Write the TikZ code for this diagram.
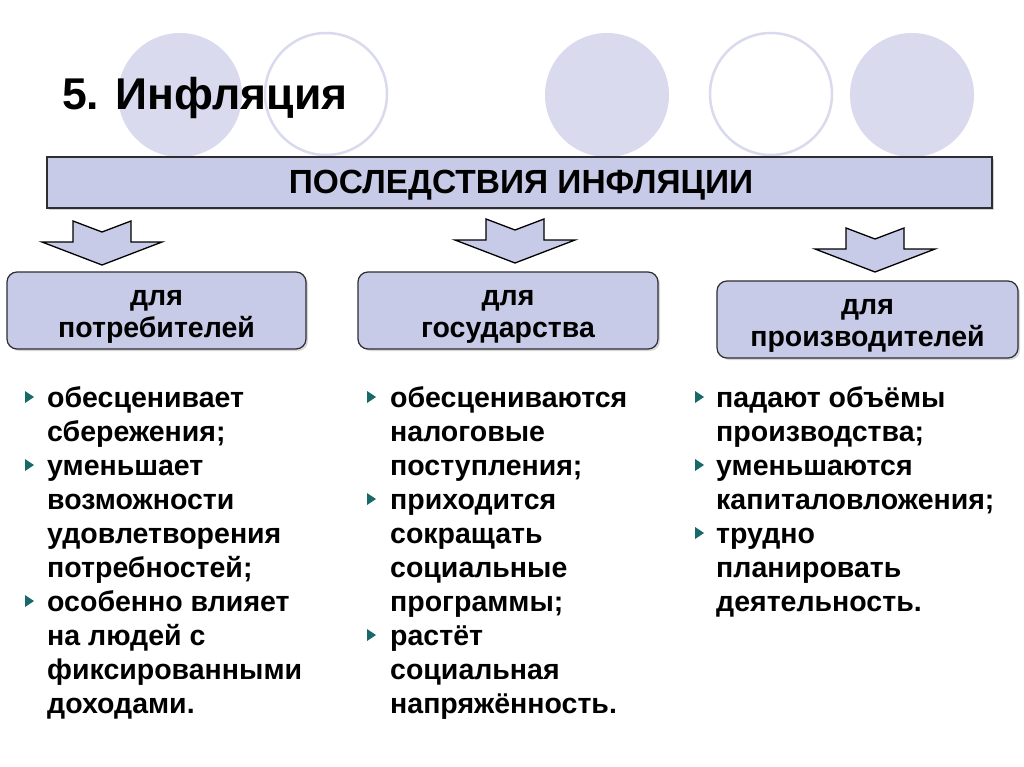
\documentclass[tikz,border=0pt]{standalone}
\usepackage{fontspec}
\setmainfont{Liberation Sans}
\usetikzlibrary{shadows}
\definecolor{lav}{RGB}{200,203,232}
\definecolor{circfill}{RGB}{217,218,238}
\definecolor{bord}{RGB}{45,45,50}
\definecolor{bulcol}{RGB}{25,105,105}
\tikzset{
  banner/.style={draw=bord, line width=1.2pt, fill=lav, inner sep=0pt,
    drop shadow={shadow xshift=2pt, shadow yshift=-2pt, opacity=0.35}},
  catbox/.style={draw=bord, line width=1.2pt, fill=lav, rounded corners=10pt, inner sep=0pt,
    drop shadow={shadow xshift=2pt, shadow yshift=-2pt, opacity=0.3}},
  boxtxt/.style={anchor=base, inner sep=0pt, font=\bfseries\fontsize{28.5}{32}\selectfont},
  item/.style={anchor=base west, inner sep=0pt, font=\bfseries\fontsize{28.5}{34}\selectfont},
  arrowsty/.style={draw=black, line width=1.3pt, fill=lav, line join=miter},
  blockarrow/.pic={\path[arrowsty] (-29,0) -- (0,11) -- (29,0) -- (29,21) -- (60,21) -- (0,44) -- (-60,21) -- (-29,21) -- cycle;},
  bullet/.style={fill=bulcol}
}
\begin{document}
\begin{tikzpicture}[x=1pt,y=-1pt]
\useasboundingbox (0,0) rectangle (1024,767);
\fill[white] (0,0) rectangle (1024,767);
% decorative circles
\fill[circfill] (180,95) circle (62pt);
\draw[circfill, line width=2.5pt] (326,94) circle (61pt);
\fill[circfill] (607,95) circle (62pt);
\draw[circfill, line width=2.5pt] (771,94) circle (61pt);
\fill[circfill] (912,95) circle (62pt);
% title
\node[anchor=base west, inner sep=0pt, font=\bfseries\fontsize{44.5}{44.5}\selectfont] (title) at (62,110) {5. Инфляция};
% banner
\node[banner, minimum width=945pt, minimum height=51pt] (ban) at (519.5,182.5) {};
\node[anchor=base, inner sep=0pt, font=\bfseries\fontsize{33.5}{33.5}\selectfont] (bantxt) at (521,194) {ПОСЛЕДСТВИЯ ИНФЛЯЦИИ};
% arrows
\pic (ar1) at (102,221) {blockarrow};
\pic (ar2) at (515,219) {blockarrow};
\pic (ar3) at (875,228) {blockarrow};
% category boxes
\node[catbox, minimum width=299pt, minimum height=77pt] (b1) at (156.5,310.5) {};
\node[catbox, minimum width=300pt, minimum height=77pt] (b2) at (508,310.5) {};
\node[catbox, minimum width=301pt, minimum height=77pt] (b3) at (867.5,319.5) {};
\node[boxtxt] (b1a) at (156.5,305) {для};
\node[boxtxt] (b1b) at (156.5,337) {потребителей};
\node[boxtxt] (b2a) at (508,305) {для};
\node[boxtxt] (b2b) at (508,337) {государства};
\node[boxtxt] (b3a) at (867.5,314) {для};
\node[boxtxt] (b3b) at (867.5,346) {производителей};
% lists
\foreach \t [count=\i] in {обесценивает, сбережения;, уменьшает, возможности, удовлетворения, потребностей;, особенно влияет, на людей с, фиксированными, доходами.}
  \node[item] (la\i) at (47,{407+34*(\i-1)}) {\t};
\foreach \t [count=\i] in {обесцениваются, налоговые, поступления;, приходится, сокращать, социальные, программы;, растёт, социальная, напряжённость.}
  \node[item] (lb\i) at (390,{407+34*(\i-1)}) {\t};
\foreach \t [count=\i] in {падают объёмы, производства;, уменьшаются, капиталовложения;, трудно, планировать, деятельность.}
  \node[item] (lc\i) at (716,{407+34*(\i-1)}) {\t};
% bullets
\foreach \x/\y in {25/407, 25/475, 25/611, 367/407, 367/509, 367/645, 695/407, 695/475, 695/543}
  \fill[bullet] (\x,\y-16) -- (\x+9,\y-10) -- (\x,\y-4) -- cycle;
\end{tikzpicture}
\end{document}
